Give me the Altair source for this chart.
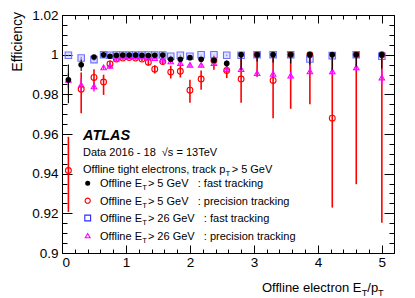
import altair as alt
import pandas as pd

# ---------------- data ----------------
x_vals = [0.1, 0.3, 0.5, 0.65, 0.75, 0.85, 0.95, 1.05, 1.15, 1.25, 1.35, 1.45, 1.575,
          1.7, 1.85, 2.0, 2.175, 2.375, 2.575, 2.8, 3.05, 3.3, 3.575, 3.875, 4.225, 4.6, 5.0]

# Offline ET > 5 GeV : fast tracking (black filled circles)
fast5 = [0.9873, 0.9949, 0.9988, 0.9999, 0.9992, 0.9997, 0.9998, 0.9998, 0.9998, 0.9997, 0.9996,
         0.9997, 0.9998, 0.9977, 0.9977, 0.9985, 0.9977, 0.9972, 0.9956, 1.0, 1.0, 1.0, 1.0, 1.0,
         1.0, 1.0, 1.0]
fast5_lo = [0.9755, 0.9918, 0.9976, 0.9993, 0.9985, 0.9993, 0.9995, 0.9995, 0.9995, 0.9994, 0.9992,
            0.9992, 0.9993, 0.9966, 0.9966, 0.9976, 0.9966, 0.9960, 0.9940, 0.9924, 0.9965, 0.9960,
            0.9955, 0.9950, 0.9924, 0.9940, 0.9930]
fast5_hi = [0.9950, 0.9976, 0.9996, 1.0, 0.9997, 1.0, 1.0, 1.0, 1.0, 1.0, 0.9999, 1.0, 1.0, 0.9987,
            0.9987, 0.9992, 0.9987, 0.9983, 0.9970, 1.0, 1.0, 1.0, 1.0, 1.0, 1.0, 1.0, 1.0]

# Offline ET > 5 GeV : precision tracking (red open circles)
prec5 = [0.9416, 0.9826, 0.9885, 0.9862, 0.9953, 0.9978, 0.9983, 0.9986, 0.9983, 0.9978, 0.9962,
         0.9927, 0.9965, 0.9912, 0.9916, 0.9821, 0.9877, 0.9971, 0.9920, 0.9877, 1.0, 0.9870, 1.0,
         1.0, 0.9680, 1.0, 1.0]
prec5_lo = [0.9207, 0.9705, 0.9826, 0.9797, 0.9930, 0.9968, 0.9975, 0.9979, 0.9975, 0.9968, 0.9945,
            0.9905, 0.9950, 0.9880, 0.9885, 0.9758, 0.9823, 0.9924, 0.9882, 0.9758, 0.9890, 0.9680,
            0.9727, 0.9750, 0.9229, 0.9347, 0.9153]
prec5_hi = [0.9586, 0.9910, 0.9927, 0.9899, 0.9970, 0.9986, 0.9990, 0.9992, 0.9990, 0.9986, 0.9975,
            0.9947, 0.9978, 0.9944, 0.9950, 0.9873, 0.9920, 0.9992, 0.9958, 0.9995, 1.0, 0.9995, 1.0,
            1.0, 0.9995, 1.0, 1.0]

# Offline ET > 26 GeV : fast tracking (blue open squares)
fast26 = [0.9997, 0.9983, 0.9975, 1.0, 0.9997, 0.9998, 0.9998, 0.9998, 0.9998, 0.9998, 0.9998,
          0.9998, 0.9998, 0.9992, 0.9997, 0.9992, 1.0, 1.0, 0.9997, 0.9997, 1.0, 1.0, 1.0, 0.9978,
          0.9995, 1.0, 0.9992]
fast26_lo = [0.9992, 0.9976, 0.9968, 0.9996, 0.9994, 0.9996, 0.9996, 0.9996, 0.9996, 0.9996, 0.9995,
             0.9995, 0.9995, 0.9987, 0.9993, 0.9987, 0.9996, 0.9996, 0.9992, 0.9992, 0.9995, 0.9994,
             0.9993, 0.9968, 0.9988, 0.9992, 0.9982]
fast26_hi = [1.0, 0.9990, 0.9982, 1.0, 1.0, 1.0, 1.0, 1.0, 1.0, 1.0, 1.0, 1.0, 1.0, 0.9996, 1.0,
             0.9996, 1.0, 1.0, 1.0, 1.0, 1.0, 1.0, 1.0, 0.9987, 1.0, 1.0, 0.9998]

# Offline ET > 26 GeV : precision tracking (magenta open triangles)
prec26 = [0.9873, 0.9848, 0.9840, 0.9936, 0.9944, 0.9980, 0.9990, 0.9993, 0.9992, 0.9990, 0.9985,
          0.9983, 0.9975, 0.9966, 0.9958, 0.9949, 0.9949, 0.9958, 0.9927, 0.9927, 0.9907, 0.9904,
          0.9894, 0.9916, 0.9916, 0.9936, 0.9885]
prec26_lo = [0.9831, 0.9815, 0.9814, 0.9925, 0.9934, 0.9974, 0.9986, 0.9990, 0.9989, 0.9986, 0.9980,
             0.9977, 0.9968, 0.9957, 0.9948, 0.9938, 0.9938, 0.9948, 0.9912, 0.9912, 0.9888, 0.9885,
             0.9873, 0.9899, 0.9897, 0.9918, 0.9848]
prec26_hi = [0.9907, 0.9880, 0.9860, 0.9946, 0.9953, 0.9985, 0.9994, 0.9996, 0.9995, 0.9994, 0.9990,
             0.9988, 0.9982, 0.9974, 0.9967, 0.9959, 0.9959, 0.9967, 0.9941, 0.9941, 0.9925, 0.9922,
             0.9914, 0.9941, 0.9934, 0.9953, 0.9924]

x_major = [0, 1, 2, 3, 4, 5]
x_minor = [round(0.2 * i, 2) for i in range(26)]
y_major = [0.90, 0.92, 0.94, 0.96, 0.98, 1.00, 1.02]
y_minor = [round(0.90 + 0.005 * i, 3) for i in range(25)]

legend_rows = [
    ("fast5", "> 5 GeV", ": fast tracking"),
    ("prec5", "> 5 GeV", ": precision tracking"),
    ("fast26", "> 26 GeV", ": fast tracking"),
    ("prec26", "> 26 GeV", ": precision tracking"),
]

# ---------------- styling ----------------
FONT = "Liberation Sans"
W, H = 332, 238
xs = alt.Scale(domain=[0, 5.19], nice=False, zero=False)
ys = alt.Scale(domain=[0.9, 1.02], nice=False, zero=False)

ARIAL = {' ': 278, ',': 278, '-': 333, '.': 278, '/': 278, ':': 278, '>': 584, '=': 584,
         'A': 667, 'D': 722, 'E': 667, 'G': 778, 'L': 556, 'O': 778, 'S': 667, 'T': 611, 'V': 667,
         'a': 556, 'c': 500, 'e': 556, 'f': 278, 'g': 556, 'h': 556, 'i': 222, 'k': 500,
         'l': 222, 'n': 556, 'o': 556, 'p': 556, 'r': 333, 's': 500, 't': 278, 'v': 500,
         '√': 549}


def tw(s, size):
    return sum(ARIAL.get(ch, 556) for ch in s) * size / 1000.0


def sdf(v, lo, hi):
    return pd.DataFrame({"x": x_vals, "eff": v, "lo": lo, "hi": hi})


def bars(df, color, width, opacity=1.0):
    return alt.Chart(df).mark_rule(color=color, strokeWidth=width, opacity=opacity).encode(
        x=alt.X("x:Q", scale=xs, axis=None),
        y=alt.Y("lo:Q", scale=ys, axis=None),
        y2="hi:Q")


def pts(df, **kw):
    return alt.Chart(df).mark_point(**kw).encode(
        x=alt.X("x:Q", scale=xs, axis=None),
        y=alt.Y("eff:Q", scale=ys, axis=None))


one = pd.DataFrame({"x": [2.5], "y": [0.95]})


def axis_layer(xaxis, yaxis):
    return alt.Chart(one).mark_point(opacity=0).encode(
        x=alt.X("x:Q", scale=xs, axis=xaxis),
        y=alt.Y("y:Q", scale=ys, axis=yaxis))


def tick_axis(orient, offset, values, size):
    return alt.Axis(orient=orient, offset=offset, values=values, tickSize=size, labels=False,
                    domain=False, grid=False, title=None, tickColor="black", tickWidth=1)


label_x = alt.Axis(orient="bottom", values=x_major, ticks=False, domain=False, grid=False,
                   title=None, labelFont=FONT, labelFontSize=13.5, labelColor="black",
                   labelPadding=2, format="d")
label_y = alt.Axis(orient="left", values=y_major, ticks=False, domain=False, grid=False,
                   title=None, labelFont=FONT, labelFontSize=13.5, labelColor="black",
                   labelPadding=4, format="~g")

axes = [
    axis_layer(label_x, label_y),
    axis_layer(tick_axis("top", -H, x_major, 8), tick_axis("right", -W, y_major, 10)),
    axis_layer(tick_axis("top", -H, x_minor, 4), tick_axis("right", -W, y_minor, 5)),
    axis_layer(tick_axis("bottom", -H, x_major, 8), tick_axis("left", -W, y_major, 10)),
    axis_layer(tick_axis("bottom", -H, x_minor, 4), tick_axis("left", -W, y_minor, 5)),
]

d_fast5 = sdf(fast5, fast5_lo, fast5_hi)
d_prec5 = sdf(prec5, prec5_lo, prec5_hi)
d_fast26 = sdf(fast26, fast26_lo, fast26_hi)
d_prec26 = sdf(prec26, prec26_lo, prec26_hi)

SQ_STROKE = "#6f6fff"
marker_style = {
    "fast5": dict(shape="circle", filled=True, color="black", size=32, opacity=1),
    "prec5": dict(shape="circle", filled=False, color="#ff0000", size=34, strokeWidth=1.1, opacity=1),
    "fast26": dict(shape="square", filled=False, stroke=SQ_STROKE, fill="#0000ff", fillOpacity=0.12,
                   size=42, strokeWidth=1.1, opacity=1),
    "prec26": dict(shape="triangle-up", filled=False, color="#ff00ff", size=30, strokeWidth=1.1, opacity=1),
}

data_layers = [
    bars(d_prec5, "#ff0000", 1.6),
    pts(d_prec5, **marker_style["prec5"]),
    bars(d_fast26, SQ_STROKE, 1.2, 0.8),
    pts(d_fast26, **marker_style["fast26"]),
    bars(d_prec26, "#ff00ff", 1.4),
    pts(d_prec26, **marker_style["prec26"]),
    bars(d_fast5, "black", 1.1),
    pts(d_fast5, **marker_style["fast5"]),
]


def txt(s, x, y, size, **kw):
    return alt.Chart(one).mark_text(text=s, font=FONT, fontSize=size, align="left",
                                    baseline="alphabetic", color="black", **kw).encode(
        x=alt.value(x), y=alt.value(y))


ann = []
# ATLAS label block (plot-area pixel coordinates)
ann.append(txt("ATLAS", 21, 125, 14.5, fontWeight="bold", fontStyle="italic"))
ann.append(txt("Data 2016 - 18", 21, 141, 11))
ann.append(txt("√s = 13TeV", 21 + tw("Data 2016 - 18 ", 11) + 3, 141, 11))
t1 = "Offline tight electrons, track p"
ann.append(txt(t1, 21, 158, 11))
ann.append(txt("T", 21 + tw(t1, 11), 161, 7.7))
ann.append(txt("> 5 GeV", 21 + tw(t1, 11) + tw("T", 7.7) + 1.5, 158, 11))

# legend
row_c = [168.3, 185.7, 203.0, 220.7]
for (key, cut, trk), yc in zip(legend_rows, row_c):
    st = dict(marker_style[key])
    st["size"] = st["size"] * 0.8
    if "fill" in st:
        st.pop("fill"); st.pop("fillOpacity")
        st["stroke"] = "#2b2bff"
    ann.append(alt.Chart(one).mark_point(**st).encode(x=alt.value(25.7), y=alt.value(yc)))
    base = yc + 4
    s0 = "Offline E"
    ann.append(txt(s0, 38, base, 11))
    xt = 38 + tw(s0, 11)
    ann.append(txt("T", xt, base + 3, 7.7))
    xc = xt + tw("T", 7.7) + 1
    ann.append(txt(cut, xc, base, 11))
    xk = xc + tw(cut + "   ", 11)
    ann.append(txt(trk, xk, base, 11))

# x title with subscripts
xb = 277
x0 = 200
sa = "Offline electron E"
ann.append(txt(sa, x0, xb, 13))
xa = x0 + tw(sa, 13)
ann.append(txt("T", xa, xb + 3.5, 9.1))
xa += tw("T", 9.1)
ann.append(txt("/p", xa, xb, 13))
xa += tw("/p", 13)
ann.append(txt("T", xa, xb + 3.5, 9.1))

# y title
ann.append(alt.Chart(one).mark_text(text="Efficiency", font=FONT, fontSize=14, angle=270,
                                    align="right", baseline="alphabetic", color="black").encode(
    x=alt.value(-40), y=alt.value(-3)))

chart = alt.layer(*axes, *data_layers, *ann).resolve_axis(
    x="independent", y="independent"
).properties(
    width=W, height=H,
    autosize=alt.AutoSizeParams(type="none"),
    padding={"left": 54, "top": 7, "right": 13, "bottom": 43},
    background="white",
).configure_view(stroke="black", strokeWidth=1)

chart.save("out.html", embed_options={"renderer": "svg", "actions": False})
